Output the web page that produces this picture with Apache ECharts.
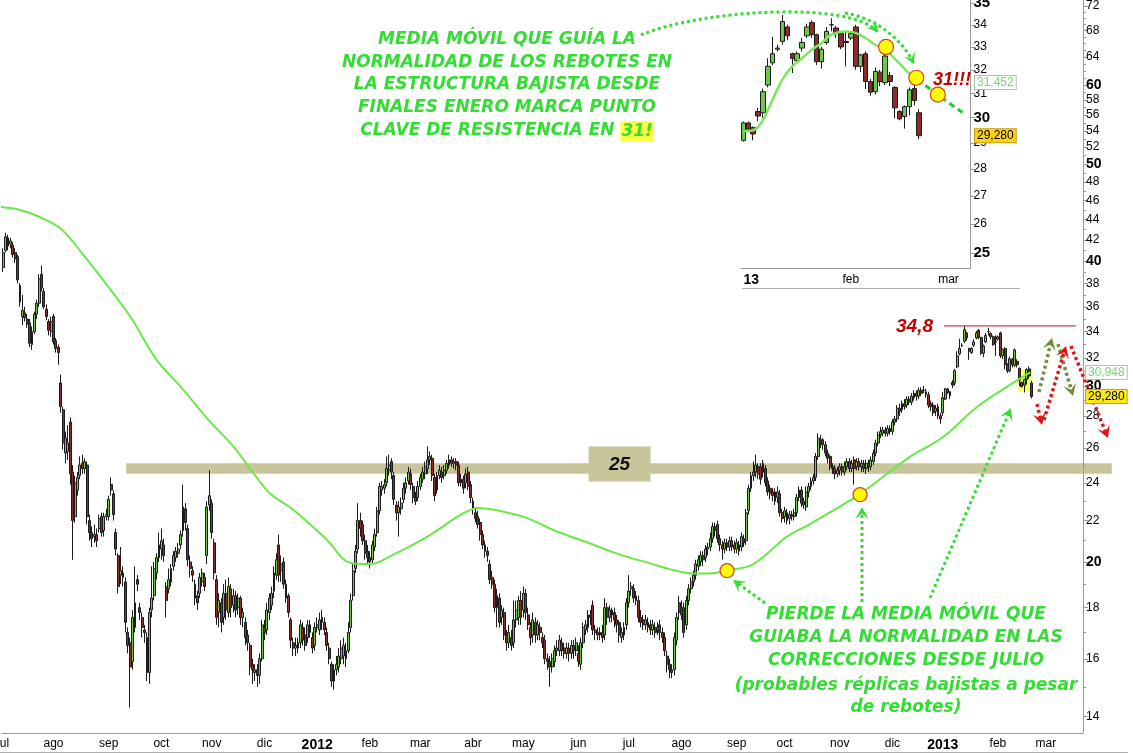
<!DOCTYPE html>
<html><head><meta charset="utf-8">
<script src="https://cdn.jsdelivr.net/npm/echarts@6/dist/echarts.min.js"></script>
<style>html,body{margin:0;padding:0;background:#fff;}#chart{width:1133px;height:754px;}</style>
</head><body><div id="chart"></div>
<script>
// ---------------- data ----------------
const monthNames = ['ene','feb','mar','abr','may','jun','jul','ago','sep','oct','nov','dic'];
const mainStartDate = '2011-07-01';
const mainSlotCount = 451;
const insetStartDate = '2013-01-02';
const insetSlotCount = 47;
const insetFirstCandle = 393;

const mainTickLabels = [14,16,18,20,22,24,26,28,30,32,34,36,38,40,42,44,46,48,50,52,54,56,58,60,64,68,72];
const mainMinorTicks = [15,17,19,21,23,25,27,29,31,33,35,37,39,41,43,45,47,49,51,53,55,57,59,61,62,63,65,66,67,69,70,71];
const mainBoldTicks = [20,30,40,50,60];
const insetTickLabels = [25,26,27,28,29,30,31,32,33,34,35];
const insetBoldTicks = [25,30,35];

// daily candles [open, close, low, high]
const candles = [
[39.4,40.8,39.0,41.2],[41.0,42.3,40.8,42.7],[42.2,41.4,41.0,42.5],[41.6,41.9,41.2,42.2],[41.5,40.6,40.3,41.8],[40.8,40.2,39.8,41.2],[40.4,38.3,38.0,40.6],[37.8,36.4,36.0,38.0],[35.2,35.7,34.5,37.0],[35.5,35.1,34.8,36.0],
[35.0,34.6,34.3,35.4],[34.7,33.1,32.8,35.0],[33.0,34.0,32.6,34.4],[34.0,35.4,33.8,35.6],[35.4,36.3,35.0,36.6],[36.3,38.4,36.0,38.8],[38.8,37.6,37.3,39.6],[37.3,36.0,35.8,37.6],[35.8,35.2,34.9,36.2],[34.8,34.1,33.7,35.0],
[34.0,34.8,33.6,35.2],[35.2,33.2,33.0,35.4],[33.3,32.7,32.4,33.5],[32.8,32.4,31.5,33.0],[30.2,28.6,28.2,30.8],[28.4,26.3,25.9,28.6],[25.7,26.6,25.1,27.0],[25.8,26.3,25.3,27.4],[27.6,24.5,23.9,27.9],[24.6,22.0,20.1,25.0],
[22.2,24.0,21.9,24.4],[23.6,24.3,23.3,24.6],[24.4,25.0,24.2,25.5],[25.1,24.8,24.5,25.6],[24.8,25.2,24.5,25.4],[25.0,22.2,21.8,25.2],[22.0,21.4,21.0,22.3],[21.4,21.1,20.7,21.7],[21.2,21.3,20.9,21.8],[21.3,21.0,20.7,21.6],
[21.6,22.1,21.4,22.3],[22.2,21.4,21.2,22.4],[21.5,22.2,21.2,22.4],[22.2,22.3,22.0,22.6],[22.2,23.1,22.0,23.3],[23.9,23.6,23.3,24.3],[23.4,22.3,22.0,23.6],[21.4,20.6,20.3,21.6],[20.3,18.9,18.6,20.4],[19.4,19.6,19.0,20.7],
[19.5,19.3,18.9,19.8],[19.1,17.4,17.0,19.3],[17.0,16.5,16.2,17.2],[16.6,15.7,14.3,16.8],[15.9,17.6,15.6,17.9],[17.2,18.2,17.0,19.8],[19.2,19.0,18.7,19.4],[18.0,17.8,17.5,18.2],[17.6,17.2,16.8,17.8],[17.1,17.0,16.6,17.3],
[16.8,15.5,15.2,17.0],[15.5,17.8,15.1,18.0],[17.9,18.4,17.6,19.8],[18.5,19.7,18.3,20.0],[19.5,20.2,19.2,20.4],[20.2,20.8,20.0,21.4],[20.6,21.0,20.1,21.6],[20.8,20.3,20.0,21.1],[18.9,18.3,17.6,19.1],[18.8,19.2,18.6,19.7],
[19.1,19.7,18.9,19.9],[19.8,20.3,19.6,20.5],[20.2,20.5,20.0,20.7],[20.4,20.6,20.2,20.9],[20.8,21.3,20.6,21.5],[21.5,22.7,21.2,23.9],[22.6,21.9,21.5,22.9],[21.6,20.1,19.8,21.8],[20.0,19.7,19.3,20.3],[19.6,19.4,19.1,19.8],
[19.0,18.4,18.1,19.2],[18.5,18.2,17.9,18.7],[18.6,19.3,18.4,19.5],[19.1,19.5,18.9,19.7],[19.3,18.9,18.7,19.5],[20.3,22.7,19.9,23.0],[22.8,23.3,22.5,24.7],[22.9,21.4,21.1,23.1],[20.9,19.5,19.2,21.1],[19.2,17.6,17.3,19.4],
[17.8,18.3,17.2,18.6],[18.2,17.4,17.0,18.4],[17.6,18.6,17.3,19.0],[18.6,17.9,17.5,19.2],[17.8,18.9,17.6,19.3],[18.8,18.0,17.6,19.0],[18.1,18.5,17.8,18.8],[18.5,17.9,17.6,18.7],[18.0,18.4,17.7,18.6],[18.4,17.6,17.3,18.5],
[17.6,17.8,17.2,18.0],[17.4,16.8,16.5,17.6],[16.9,16.6,16.3,17.1],[16.5,15.7,15.4,16.6],[15.8,15.6,15.1,16.0],[15.5,15.6,15.2,15.8],[15.6,15.4,15.0,15.8],[15.4,16.0,15.1,16.2],[16.0,17.3,15.9,17.5],[17.2,17.0,16.7,17.5],
[17.1,17.9,16.9,18.2],[17.8,18.4,17.5,18.6],[18.1,18.6,17.9,18.9],[18.7,19.5,18.4,19.8],[19.4,20.1,19.2,20.4],[20.8,19.4,19.1,21.3],[19.6,19.9,19.1,20.3],[20.0,19.0,18.8,20.2],[19.0,18.4,18.2,19.2],[18.5,17.8,17.6,18.6],
[17.5,16.7,16.4,17.6],[16.6,16.4,16.1,16.8],[16.4,16.5,16.1,16.8],[16.4,16.6,16.2,16.8],[16.6,17.3,16.4,17.5],[17.2,16.7,16.5,17.4],[16.9,16.5,16.3,17.2],[16.8,17.3,16.6,17.5],[17.3,17.0,16.8,17.5],[16.8,16.4,16.2,17.0],
[16.5,17.2,16.3,17.4],[17.2,17.3,17.0,17.6],[17.1,17.5,16.9,17.8],[17.4,17.6,17.1,17.9],[17.4,17.1,16.9,17.6],[17.0,16.5,16.3,17.2],[16.4,16.0,15.8,16.6],[15.8,15.2,15.0,15.9],[15.2,15.6,14.9,15.8],[15.6,15.8,15.4,16.1],
[15.7,16.1,15.5,16.4],[16.0,16.4,15.8,16.7],[16.1,16.5,15.8,16.8],[16.3,16.0,15.7,16.6],[16.3,17.0,16.2,17.4],[17.2,18.3,17.0,18.6],[18.5,19.6,18.3,19.9],[19.7,20.5,19.5,20.8],[20.6,22.0,20.4,22.9],[22.0,21.6,21.2,22.4],
[21.8,21.0,20.8,22.0],[21.0,20.4,20.1,21.3],[20.5,20.2,19.9,20.8],[20.2,20.0,19.7,20.5],[20.1,20.8,19.9,21.0],[20.7,21.3,20.5,21.6],[21.4,22.5,21.2,22.7],[22.5,23.8,22.3,24.0],[23.6,23.8,23.3,24.1],[23.7,23.9,23.4,24.2],
[24.0,24.8,23.8,25.5],[24.7,25.0,24.4,25.6],[25.2,24.6,24.2,25.4],[24.4,23.1,22.8,24.6],[22.8,22.4,22.0,23.0],[22.4,22.7,21.2,23.0],[22.6,22.9,22.3,23.2],[23.1,23.7,22.9,24.0],[23.7,24.0,23.4,24.3],[24.1,24.6,23.9,24.9],
[24.5,23.9,23.6,24.8],[23.8,23.2,22.9,24.0],[23.2,23.0,22.8,23.5],[23.2,23.8,23.0,24.1],[23.8,24.3,23.6,24.5],[24.2,24.6,24.0,24.9],[24.5,24.9,24.2,25.2],[24.8,25.3,24.5,26.1],[25.3,25.5,25.0,25.8],[25.4,24.4,24.1,25.6],
[24.3,23.3,23.0,24.5],[23.6,24.4,23.4,24.6],[24.4,24.7,24.2,25.0],[24.6,24.3,24.0,24.9],[24.4,24.7,24.2,25.0],[24.7,25.1,24.5,25.3],[25.0,25.3,24.8,25.6],[25.3,25.1,24.9,25.5],[25.1,25.2,24.8,25.4],[25.2,25.0,24.7,25.4],
[25.0,24.0,23.8,25.2],[24.0,24.2,23.8,24.5],[24.2,23.7,23.4,24.4],[24.0,24.5,23.7,24.8],[24.6,23.8,23.6,24.9],[23.9,23.2,22.9,24.1],[23.0,22.6,22.3,23.2],[22.4,22.1,21.9,22.7],[22.2,21.8,21.6,22.5],[21.9,21.3,21.0,22.1],
[21.3,20.8,20.6,21.5],[20.8,20.5,20.2,21.0],[20.5,20.3,20.0,20.7],[19.9,19.2,19.0,20.1],[19.3,19.0,18.8,19.6],[19.0,18.0,17.8,19.2],[18.0,18.5,17.2,18.8],[18.4,17.4,17.2,18.6],[17.6,17.9,17.3,18.1],[17.8,16.9,16.7,18.0],
[16.9,16.6,16.3,17.1],[16.6,17.0,16.4,17.3],[16.8,16.5,16.3,17.1],[16.6,17.5,16.4,18.3],[17.5,17.9,17.2,18.3],[17.6,18.3,17.3,18.5],[18.3,17.6,17.3,18.7],[17.9,18.6,17.6,18.9],[18.6,17.8,17.5,18.8],[17.7,17.3,17.1,18.0],
[17.2,16.8,16.5,17.4],[16.9,17.5,16.6,17.8],[17.4,16.9,16.6,17.6],[16.9,17.3,16.7,17.5],[17.2,17.0,16.7,17.4],[16.8,16.6,16.4,17.0],[16.7,16.0,15.8,16.9],[16.0,15.9,15.6,16.2],[15.9,15.7,15.0,16.1],[15.7,16.0,15.5,16.2],
[15.9,16.3,15.7,16.5],[16.3,16.4,16.1,16.7],[16.3,16.7,16.1,16.9],[16.6,16.3,16.1,16.8],[16.4,16.2,16.0,16.6],[16.2,16.4,16.0,16.6],[16.4,16.2,15.9,16.6],[16.2,16.5,16.0,16.7],[16.5,16.3,16.0,16.7],[16.3,16.6,16.1,16.8],
[16.2,15.9,15.7,16.5],[15.8,16.6,15.6,16.8],[16.6,17.2,16.4,17.4],[17.1,17.3,16.9,17.5],[17.2,17.7,17.0,17.9],[17.7,17.6,17.3,17.9],[18.1,17.1,16.9,18.3],[17.1,17.0,16.7,17.3],[17.0,16.9,16.7,17.2],[16.9,17.0,16.7,17.2],
[17.0,16.8,16.6,17.3],[16.9,18.0,16.7,18.4],[18.0,17.6,17.3,18.2],[17.6,17.9,17.4,18.1],[17.9,17.7,17.4,18.0],[17.8,17.5,17.2,18.0],[17.5,17.3,17.0,17.7],[17.4,16.9,16.6,17.5],[16.8,17.0,16.6,17.2],[16.9,17.2,16.7,17.4],
[17.3,18.2,17.1,18.4],[18.2,18.7,18.0,19.4],[18.8,18.9,18.5,19.1],[18.8,18.4,18.2,19.0],[18.5,18.3,18.1,18.7],[18.3,17.6,17.4,18.5],[17.6,17.4,17.2,17.9],[17.5,17.3,17.1,17.7],[17.3,17.5,17.1,17.7],[17.4,17.2,17.0,17.6],
[17.3,17.1,16.9,17.5],[17.1,17.3,16.9,17.5],[17.2,17.0,16.8,17.4],[17.1,17.2,16.9,17.4],[17.3,17.0,16.7,17.5],[17.0,16.8,16.6,17.2],[16.8,16.3,16.1,17.0],[16.1,15.8,15.5,16.3],[15.8,15.6,15.3,16.0],[15.6,15.5,15.3,15.8],
[15.6,16.8,15.4,17.0],[16.7,17.6,16.5,17.8],[18.2,17.8,17.5,18.5],[18.0,17.7,17.5,18.3],[18.0,17.0,16.8,18.2],[17.3,18.3,17.1,18.5],[18.3,18.8,18.1,19.0],[18.8,19.1,18.6,19.3],[19.1,19.4,18.9,19.6],[19.4,19.9,19.2,20.1],
[19.8,20.1,19.6,20.3],[20.0,20.3,19.8,20.5],[20.3,20.1,19.8,20.5],[20.2,20.6,20.0,20.8],[20.6,20.7,20.3,20.9],[20.7,21.1,20.5,21.4],[21.1,21.7,20.9,21.9],[21.7,21.5,21.2,21.9],[21.8,21.1,20.9,22.0],[21.1,20.8,20.5,21.3],
[20.8,20.6,20.1,21.0],[20.6,20.9,20.4,21.1],[20.9,20.7,20.5,21.1],[20.7,21.0,20.5,21.2],[21.0,20.7,20.5,21.2],[20.8,20.6,20.4,21.0],[20.6,20.9,20.4,21.1],[20.8,20.5,20.3,21.0],[20.7,21.2,20.5,21.4],[21.1,20.9,20.7,21.3],
[21.0,22.4,20.8,22.6],[22.5,23.7,22.3,23.9],[23.7,24.4,23.5,24.6],[24.4,24.6,24.1,25.2],[24.6,25.0,24.3,25.6],[24.9,24.5,24.2,25.1],[24.9,24.2,23.9,25.1],[24.6,25.1,24.3,25.3],[24.8,24.0,23.8,25.0],[24.1,23.5,23.3,24.3],
[23.7,23.4,23.1,23.9],[23.5,23.3,23.0,23.7],[23.5,23.0,22.8,23.7],[23.2,23.5,22.9,23.8],[23.4,22.4,22.2,23.6],[22.4,22.1,21.9,22.6],[22.2,22.5,21.9,22.7],[22.4,22.0,21.8,22.6],[22.1,22.3,21.8,22.5],[22.3,22.2,22.0,22.5],
[22.2,22.4,22.0,22.6],[22.4,23.2,22.2,23.4],[23.2,23.6,23.0,23.8],[23.6,22.9,22.7,23.8],[23.0,22.8,22.6,23.2],[22.7,23.5,22.5,23.8],[23.5,23.8,23.2,24.0],[23.8,24.1,23.6,24.3],[24.1,24.3,23.9,24.5],[24.3,25.5,24.1,25.7],
[25.5,26.6,25.3,26.9],[26.5,26.4,26.0,26.8],[26.5,26.2,25.9,26.6],[26.2,25.7,25.5,26.4],[25.7,25.4,25.1,25.9],[25.5,24.9,24.7,25.6],[24.9,24.8,24.5,25.1],[24.8,24.5,24.2,25.0],[24.5,24.7,24.3,24.9],[24.7,24.9,24.4,25.1],
[24.9,24.6,24.4,25.1],[24.6,24.9,24.4,25.2],[24.9,25.2,24.7,25.4],[25.2,24.8,24.6,25.4],[24.8,25.1,24.6,25.3],[25.3,24.8,23.9,25.5],[24.9,25.2,24.7,25.4],[25.2,24.9,24.7,25.4],[24.9,25.1,24.6,25.3],[25.1,24.8,24.6,25.3],
[24.8,25.1,24.5,25.3],[25.1,24.9,24.6,25.3],[24.9,25.3,24.7,25.5],[25.2,25.7,25.0,25.9],[25.7,26.3,25.5,26.5],[26.3,26.8,26.1,27.0],[26.8,27.0,26.6,27.3],[26.9,27.1,26.7,27.3],[27.1,26.9,26.7,27.3],[26.9,27.2,26.7,27.4],
[27.2,27.0,26.8,27.4],[27.0,27.6,26.8,27.8],[27.6,27.8,27.4,28.0],[27.8,28.5,27.6,28.7],[28.5,28.3,28.0,28.8],[28.4,28.8,28.2,29.0],[28.8,28.6,28.4,29.1],[28.7,29.1,28.5,29.3],[29.1,28.9,28.7,29.3],[28.9,29.3,28.7,29.5],
[29.2,29.5,29.0,29.7],[29.5,29.3,29.0,29.7],[29.3,29.7,29.1,29.9],[29.7,29.5,29.3,29.9],[29.7,29.7,29.5,30.0],[29.6,29.4,29.2,29.8],[29.4,28.7,28.5,29.6],[28.8,28.6,28.3,29.0],[28.7,28.2,28.0,28.9],[28.3,28.5,28.0,28.7],
[28.6,28.0,27.8,28.8],[28.0,27.8,27.5,28.2],[28.2,29.2,28.0,29.6],[29.10,29.79,29.05,29.85],[29.79,29.54,29.45,29.85],[29.60,29.35,29.10,29.65],[30.25,30.07,29.85,30.40],[30.20,31.07,30.00,31.20],[31.35,32.15,31.25,32.50],[32.30,32.70,32.20,33.45],
[32.90,32.95,32.80,33.10],[33.25,34.15,33.10,34.45],[33.90,33.50,33.30,34.00],[32.70,32.50,31.86,32.75],[32.40,32.70,32.30,32.80],[32.95,33.20,32.80,33.40],[33.50,33.90,33.40,34.05],[34.10,33.55,33.40,34.20],[33.55,32.35,32.20,33.60],[32.35,32.90,32.05,33.00],
[33.20,33.70,33.10,33.90],[34.00,34.00,33.70,34.30],[33.85,33.60,33.40,33.95],[33.60,33.00,32.90,33.70],[33.25,33.20,32.15,33.70],[33.40,33.60,33.30,33.70],[33.90,32.15,32.00,34.00],[32.15,32.65,31.90,32.70],[32.70,31.50,31.18,32.80],[31.50,31.05,30.90,31.60],
[31.07,31.93,30.95,32.10],[31.90,31.50,31.30,32.00],[31.45,32.60,31.35,32.70],[31.75,31.50,31.30,31.90],[31.25,30.40,29.97,31.30],[30.25,29.95,29.90,30.30],[30.05,30.45,29.56,30.50],[30.45,31.15,30.10,31.25],[31.20,30.70,30.50,31.38],[30.20,29.28,29.15,30.35]
];

// long moving average (main chart): [day index, price]
const maLong = [[-1,45.3],[7,45.0],[15,44.3],[24,43.1],[33,40.7],[47,36.85],[54,34.9],[64,31.85],[74,29.95],[85,27.85],[96,26.1],[103,24.8],[111,23.45],[121,22.55],[135,21.05],[145,19.95],[153,19.9],[163,20.35],[177,21.2],[191,22.3],[198,22.65],[205,22.55],[218,22.15],[230,21.5],[243,20.95],[257,20.35],[271,19.9],[278,19.67],[288,19.47],[294,19.47],[302,19.6],[313,19.9],[327,21.2],[337,21.85],[357,23.35],[378,25.45],[392,26.65],[406,28.55],[420,30.07],[428.5,30.95]];
// short moving average (inset): [inset day index, price]
const maShort = [[0,29.46],[2.5,29.54],[4,29.91],[6,30.76],[8,31.6],[10,32.15],[12,32.5],[14,32.88],[16,33.18],[18,33.55],[21,33.7],[23,33.63],[25,33.4],[27,33.1],[29.5,32.8],[31.5,32.37],[33.5,31.93],[35.5,31.55]];
const maShortProjection = [[35.5,31.55],[38.3,31.18],[41,30.76],[45,30.19]];
const mainCircles = [[302,19.6],[357.5,23.35]];
const insetCircles = [[29.2,33.0],[35.4,31.66],[39.8,30.95]];
const resistanceBand = [24.5,25.1];
const resistanceLabel = '25';
const topLevel = 34.45, topLevelLabel = '34,8';
const lastClose = 29.28, lastCloseLabel = '29,280';
const maLongLast = 30.948, maLongLastLabel = '30,948';
const maShortLast = 31.452, maShortLastLabel = '31,452';

// ---------------- helpers ----------------
const ln = Math.log;
function weekdays(start, n){
  const out=[]; const dt=new Date(start+'T00:00:00Z');
  while(out.length<n){ const wd=dt.getUTCDay(); if(wd!==0&&wd!==6) out.push(dt.toISOString().slice(0,10)); dt.setUTCDate(dt.getUTCDate()+1); }
  return out;
}
function monthStarts(dates){ const s=new Set(); dates.forEach((d,i)=>{ if(i===0||d.slice(0,7)!==dates[i-1].slice(0,7)) s.add(i); }); return s; }
const mainDates = weekdays(mainStartDate, mainSlotCount);
const insetDates = weekdays(insetStartDate, insetSlotCount);
const mainFirst = monthStarts(mainDates);
const insetFirst = monthStarts(insetDates);
const yFmt = bolds => v => { const n=Math.round(Math.exp(v)); return bolds.includes(n)?'{b|'+n+'}':String(n); };
const AX = '#9a9a9a';
const FONT = 'Liberation Sans, Arial, sans-serif';
const candleStyle = {color:'#6cc74a', color0:'#8e2a2a', borderColor:'#1c1c1c', borderColor0:'#1c1c1c', borderWidth:1};

const mainYMin = ln(13.485), mainYMax = ln(72.99);
const insetYMin = ln(24.49), insetYMax = ln(35.156);
const mainGrid = {left:2, right:50, top:0, bottom:21, outerBoundsMode:'none', containLabel:false};
const noZero = {onZero:false};

const chart = echarts.init(document.getElementById('chart'), null, {renderer:'canvas'});
const option = {
  animation:false,
  backgroundColor:'#ffffff',
  grid:[
    Object.assign({}, mainGrid),
    {left:741, top:0, width:229.5, height:268.3, outerBoundsMode:'none', containLabel:false},
    Object.assign({}, mainGrid)
  ],
  xAxis:[
    {gridIndex:0, type:'category', data:mainDates, boundaryGap:true,
     axisLine:{onZero:false, lineStyle:{color:AX}},
     axisTick:{alignWithLabel:true, interval:i=>mainFirst.has(i), length:4, lineStyle:{color:AX}},
     axisLabel:{interval:i=>mainFirst.has(i), margin:5, color:'#000', fontSize:12, fontFamily:FONT, hideOverlap:false,
       formatter:v=>{ const m=+v.slice(5,7)-1; return m===0?'{b|'+v.slice(0,4)+'}':monthNames[m]; },
       rich:{b:{fontWeight:'bold', fontSize:14, color:'#000', fontFamily:FONT}}},
     splitLine:{show:false}},
    {gridIndex:0, type:'value', min:-0.5, max:mainSlotCount-0.5, show:false, axisLine:noZero},
    {gridIndex:1, type:'category', data:insetDates, boundaryGap:true,
     axisLine:{onZero:false, lineStyle:{color:AX}},
     axisTick:{alignWithLabel:true, interval:i=>insetFirst.has(i), length:4, lineStyle:{color:AX}},
     axisLabel:{interval:i=>insetFirst.has(i), margin:5, color:'#000', fontSize:12, fontFamily:FONT, alignMinLabel:'left',
       formatter:v=>{ const m=+v.slice(5,7)-1; return m===0?'{b|'+v.slice(2,4)+'}':monthNames[m]; },
       rich:{b:{fontWeight:'bold', fontSize:14, color:'#000', fontFamily:FONT}}},
     splitLine:{show:false}},
    {gridIndex:1, type:'value', min:-0.5, max:insetSlotCount-0.5, show:false, axisLine:noZero},
    {gridIndex:2, type:'value', min:1, max:2, show:false, axisLine:noZero}
  ],
  yAxis:[
    {gridIndex:0, type:'value', position:'right', min:mainYMin, max:mainYMax,
     axisLine:{show:true, onZero:false, lineStyle:{color:AX}},
     axisTick:{show:true, length:5, customValues:mainTickLabels.map(ln), lineStyle:{color:AX}},
     axisLabel:{customValues:mainTickLabels.map(ln), formatter:yFmt(mainBoldTicks), margin:3, color:'#000', fontSize:12, fontFamily:FONT,
       rich:{b:{fontWeight:'bold', fontSize:14, color:'#000', fontFamily:FONT}}},
     splitLine:{show:false}},
    {gridIndex:2, type:'value', position:'right', min:mainYMin, max:mainYMax,
     axisLine:{show:false, onZero:false},
     axisTick:{show:true, length:3, customValues:mainMinorTicks.map(ln), lineStyle:{color:AX}},
     axisLabel:{show:false}, splitLine:{show:false}},
    {gridIndex:1, type:'value', position:'right', min:insetYMin, max:insetYMax,
     axisLine:{show:true, onZero:false, lineStyle:{color:AX}},
     axisTick:{show:true, length:5, customValues:insetTickLabels.map(ln), lineStyle:{color:AX}},
     axisLabel:{customValues:insetTickLabels.map(ln), formatter:yFmt(insetBoldTicks), margin:3, color:'#000', fontSize:12, fontFamily:FONT,
       rich:{b:{fontWeight:'bold', fontSize:15, color:'#000', fontFamily:FONT}}},
     splitLine:{show:false}}
  ],
  series:[
    {type:'candlestick', xAxisIndex:0, yAxisIndex:0, data:candles.map(r=>r.map(ln)), barWidth:2.4, itemStyle:candleStyle, z:3},
    {type:'line', xAxisIndex:1, yAxisIndex:0, data:maLong.map(([i,p])=>[i,ln(p)]), smooth:0.35, symbol:'none', lineStyle:{color:'#6be84a', width:2}, z:4},
    {type:'scatter', xAxisIndex:1, yAxisIndex:0, data:mainCircles.map(([i,p])=>[i,ln(p)]), symbolSize:14, itemStyle:{color:'#ffff00', borderColor:'#e0401c', borderWidth:1.2, opacity:1}, z:8},
    {type:'candlestick', xAxisIndex:2, yAxisIndex:2, data:candles.slice(insetFirstCandle).map(r=>r.map(ln)), barWidth:5, itemStyle:candleStyle, z:3},
    {type:'line', xAxisIndex:3, yAxisIndex:2, data:maShort.map(([i,p])=>[i,ln(p)]), smooth:0.35, symbol:'none', lineStyle:{color:'#7ae85a', width:2.5}, z:4},
    {type:'line', xAxisIndex:3, yAxisIndex:2, data:maShortProjection.map(([i,p])=>[i,ln(p)]), smooth:0.3, symbol:'none', lineStyle:{color:'#22cc33', width:3, type:[6,4]}, z:4},
    {type:'scatter', xAxisIndex:3, yAxisIndex:2, data:insetCircles.map(([i,p])=>[i,ln(p)]), symbolSize:15, itemStyle:{color:'#ffff00', borderColor:'#e0401c', borderWidth:1.2, opacity:1}, z:8}
  ]
};
chart.setOption(option);

// ---------------- annotations ----------------
const P = (i,p)=>chart.convertToPixel({seriesIndex:1},[i,ln(p)]);
const PI = (i,p)=>chart.convertToPixel({seriesIndex:4},[i,ln(p)]);
const G = [];
const GREEN = '#33dd33', OLIVE = '#6e8e3a', RED = '#dd1515';
const txtFont = {fontFamily:'DejaVu Sans, sans-serif', fontWeight:'bold', fontStyle:'italic'};
const numFont = {fontFamily:'Liberation Sans, Arial, sans-serif', fontWeight:'bold', fontStyle:'italic'};

// resistance band at 25
const b0 = P(51.3, resistanceBand[1]), b1 = P(462.5, resistanceBand[0]);
G.push({type:'rect', z:0, silent:true, shape:{x:b0[0], y:b0[1], width:b1[0]-b0[0], height:b1[1]-b0[1]}, style:{fill:'#c8c59a'}});
const bc = P(258, (resistanceBand[0]+resistanceBand[1])/2);
G.push({type:'rect', z:1, shape:{x:bc[0]-33, y:bc[1]-22, width:62, height:35}, style:{fill:'#c8c59a'}});
G.push({type:'text', z:1, style:Object.assign({text:resistanceLabel, x:bc[0]-2, y:bc[1]-4, fill:'#111', fontSize:19, align:'center', verticalAlign:'middle'}, numFont)});
// highlight of last candles
const h0 = P(423.5, 31.2), h1 = P(429.4, 29.65);
G.push({type:'rect', z:1, shape:{x:h0[0], y:h0[1], width:h1[0]-h0[0], height:h1[1]-h0[1]}, style:{fill:'#ffff66'}});
// top level line
const t0 = P(392.5, topLevel), t1 = P(447.5, topLevel);
G.push({type:'line', z:10, shape:{x1:t0[0], y1:t0[1], x2:t1[0], y2:t1[1]}, style:{stroke:'#b01818', lineWidth:1}});
G.push({type:'text', z:10, style:Object.assign({text:topLevelLabel, x:t0[0]-11, y:t0[1]+1, fill:'#c40000', fontSize:19, align:'right', verticalAlign:'middle'}, numFont)});
// value tags
function tag(x, y, text, fill, border, color){
  G.push({type:'text', z:20, style:{text, x, y, fill:color, fontSize:12, fontFamily:FONT, align:'left', verticalAlign:'middle', backgroundColor:fill, borderColor:border, borderWidth:1, padding:[1,2,0,2]}});
}
tag(1086, P(0,maLongLast)[1], maLongLastLabel, '#ffffff', '#a8c8a0', '#7ad37a');
tag(1086, P(0,lastClose)[1], lastCloseLabel, '#ffe81a', '#c8a000', '#000');
tag(975, PI(0,maShortLast)[1], maShortLastLabel, '#ffffff', '#a8c8a0', '#7ad37a');
tag(975, PI(0,lastClose)[1], lastCloseLabel, '#ffd21a', '#c89a00', '#000');
// inset "31!!!"
G.push({type:'text', z:20, style:Object.assign({text:'31!!!', x:933, y:80, fill:'#c40000', fontSize:18, align:'left', verticalAlign:'middle'}, numFont)});

// text blocks
const topLines = ['MEDIA MÓVIL QUE GUÍA LA','NORMALIDAD DE LOS REBOTES EN','LA ESTRUCTURA BAJISTA DESDE','FINALES ENERO MARCA PUNTO','CLAVE DE RESISTENCIA EN {h|31!}'];
const topY = [40,62.5,85,108,131];
topLines.forEach((t,k)=>G.push({type:'text', z:20, style:Object.assign({text:t, x:507, y:topY[k], fill:GREEN, fontSize:17, align:'center', verticalAlign:'middle',
  rich:{h:Object.assign({fill:GREEN, color:GREEN, fontSize:17, backgroundColor:'#ffff44', padding:[2,1,1,1]}, txtFont)}}, txtFont)}));
const lowLines = ['PIERDE LA MEDIA MÓVIL QUE','GUIABA LA NORMALIDAD EN LAS','CORRECCIONES DESDE JULIO','(probables réplicas bajistas a pesar','de rebotes)'];
const lowY = [615,638,661,686,708];
lowLines.forEach((t,k)=>G.push({type:'text', z:20, style:Object.assign({text:t, x:906, y:lowY[k], fill:GREEN, fontSize:17, align:'center', verticalAlign:'middle'}, txtFont)}));

// dotted arrows
function head(x1,y1,x2,y2,color,size){
  const a=Math.atan2(y2-y1,x2-x1), c=Math.cos(a), s=Math.sin(a);
  const bx=x2-size*c, by=y2-size*s, nx=x2-size*0.55*c, ny=y2-size*0.55*s, w=size*0.55;
  G.push({type:'polygon', z:15, shape:{points:[[x2,y2],[bx-s*w,by+c*w],[nx,ny],[bx+s*w,by-c*w]]}, style:{fill:color}});
}
function arrow(pts, color, lw){
  const [x1,y1]=pts[0], [x2,y2]=pts[1];
  const a=Math.atan2(y2-y1,x2-x1);
  G.push({type:'line', z:15, shape:{x1,y1,x2:x2-6*Math.cos(a),y2:y2-6*Math.sin(a)}, style:{stroke:color, lineWidth:lw||3, lineDash:[3,3]}});
  head(x1,y1,x2,y2,color,12);
}
arrow([[862,602],[862,507]], GREEN, 3);
arrow([[930,598],[1011,408]], GREEN, 3);
arrow([[765,603],[733,580]], GREEN, 3);
arrow([[1039,392],[1052,338]], OLIVE, 3.5);
arrow([[1058,344],[1073,396]], OLIVE, 3.5);
arrow([[1037,404],[1042,425]], RED, 3.5);
arrow([[1044,420],[1066,346]], RED, 3.5);
arrow([[1071,346],[1108,438]], RED, 3.5);
function curve(x1,y1,c1x,c1y,c2x,c2y,x2,y2,color){
  G.push({type:'bezierCurve', z:15, shape:{x1,y1,cpx1:c1x,cpy1:c1y,cpx2:c2x,cpy2:c2y,x2,y2}, style:{stroke:color, lineWidth:3, lineDash:[3,3], fill:null}});
  head(c2x,c2y,x2,y2,color,11);
}
curve(641,35, 700,10, 850,0, 878,32, GREEN);
curve(845,13, 876,18, 903,40, 914,64, GREEN);

// frame lines
G.push({type:'line', z:5, shape:{x1:742,y1:288.5,x2:1020,y2:288.5}, style:{stroke:'#b0b0b0', lineWidth:1}});
G.push({type:'line', z:5, shape:{x1:0,y1:752.5,x2:1128,y2:752.5}, style:{stroke:'#b0b0b0', lineWidth:1}});

chart.setOption({graphic:{elements:G}});
</script></body></html>
